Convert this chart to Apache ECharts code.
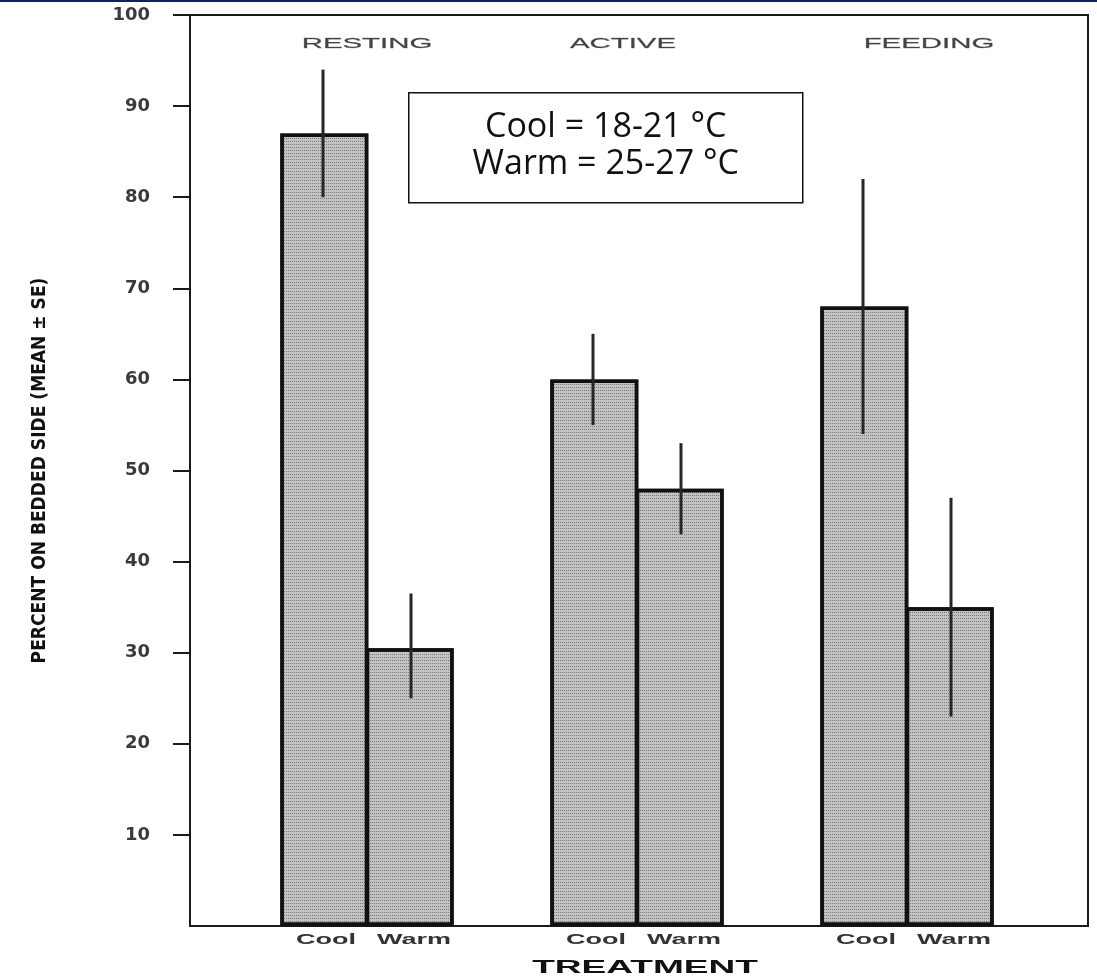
<!DOCTYPE html>
<html>
<head>
<meta charset="utf-8">
<script src="https://cdn.jsdelivr.net/npm/echarts@6/dist/echarts.min.js"></script>
<style>
html,body{margin:0;padding:0;background:#fff;}
#chart{width:1097px;height:977px;}
</style>
</head>
<body>
<div id="chart"></div>
<script>
// ---- data ----
const groups = ['RESTING', 'ACTIVE', 'FEEDING'];
const treatments = ['Cool', 'Warm'];
const coolMean = [87, 60, 68];
const warmMean = [30.5, 48, 35];
const coolLow = [80, 55, 54];
const coolHigh = [94, 65, 82];
const warmLow = [25, 43, 23];
const warmHigh = [36.5, 53, 47];
const yTicks = [10, 20, 30, 40, 50, 60, 70, 80, 90, 100];
const yName = 'PERCENT ON BEDDED SIDE (MEAN \u00B1 SE)';
const xName = 'TREATMENT';
const noteLines = ['Cool = 18-21 \u00B0C', 'Warm = 25-27 \u00B0C'];

// ---- layout / style ----
const BAR_W = 88;
const TOP = 15, PLOT_H = 911;
const headShift = [0, -14, 22];   // small horizontal nudges of the group headings

const chart = echarts.init(document.getElementById('chart'), null, {renderer: 'canvas'});

const barStyle = {
  color: '#c2c2c2',
  borderColor: '#111',
  borderWidth: 3.5,
  decal: {
    symbol: 'rect',
    symbolSize: 1,
    dashArrayX: [1, 1],
    dashArrayY: [1, 2],
    color: 'rgba(50,50,50,0.5)'
  }
};

function errSeries(name, low, high, offset) {
  return {
    type: 'custom',
    name: name + ' SE',
    xAxisIndex: 1,
    yAxisIndex: 1,
    z: 5,
    silent: true,
    encode: {x: 0, y: [1, 2]},
    data: groups.map((g, i) => [i, low[i], high[i]]),
    renderItem: function (params, api) {
      const c = api.value(0);
      const p1 = api.coord([c, api.value(1)]);
      const p2 = api.coord([c, api.value(2)]);
      const x = p1[0] + offset;
      return {
        type: 'line',
        shape: {x1: x, y1: p1[1], x2: x, y2: p2[1]},
        style: {stroke: '#262626', lineWidth: 3}
      };
    }
  };
}

const option = {
  backgroundColor: '#ffffff',
  animation: false,
  grid: [
    {left: 190, top: TOP, width: 898, height: PLOT_H, show: true, borderColor: '#1a1a1a', borderWidth: 2, backgroundColor: 'transparent'},
    {left: 232, top: TOP, width: 810, height: PLOT_H}
  ],
  xAxis: [
    {type: 'value', gridIndex: 0, min: 0, max: 1, show: false},
    {type: 'category', gridIndex: 1, data: groups, show: false}
  ],
  yAxis: [
    {
      type: 'value', gridIndex: 0, min: 0, max: 100, interval: 10,
      name: yName, nameLocation: 'middle', nameRotate: 90, nameGap: 140,
      nameTextStyle: {fontFamily: 'DejaVu Sans Condensed', fontWeight: 'bold', fontSize: 19, color: '#111'},
      axisLine: {show: true, lineStyle: {color: '#1a1a1a', width: 2}},
      axisTick: {show: true, inside: false, length: 17, customValues: yTicks, lineStyle: {color: '#1a1a1a', width: 2}},
      axisLabel: {show: true, margin: 40, customValues: yTicks, fontFamily: 'DejaVu Sans', fontWeight: 'bold', fontSize: 18, color: '#3a3a3a'},
      splitLine: {show: false}
    },
    {type: 'value', gridIndex: 1, min: 0, max: 100, show: false}
  ],
  series: [
    {type: 'bar', name: treatments[0], xAxisIndex: 1, yAxisIndex: 1, data: coolMean, barWidth: BAR_W, barGap: '-3%', itemStyle: barStyle, z: 2},
    {type: 'bar', name: treatments[1], xAxisIndex: 1, yAxisIndex: 1, data: warmMean, barWidth: BAR_W, barGap: '-3%', itemStyle: barStyle, z: 2},
    errSeries(treatments[0], coolLow, coolHigh, -BAR_W / 2),
    errSeries(treatments[1], warmLow, warmHigh, BAR_W / 2)
  ]
};

chart.setOption(option);

// ---- text labels placed through the axes' own scales ----
const yTopPx = chart.convertToPixel({yAxisIndex: 1}, 100);
const yZeroPx = chart.convertToPixel({yAxisIndex: 1}, 0);
const graphics = [
  {type: 'rect', left: 0, top: 0, shape: {width: 1097, height: 2}, style: {fill: '#0d2260'}, z: 10}
];
groups.forEach((g, i) => {
  const cx = chart.convertToPixel({xAxisIndex: 1}, g);
  graphics.push({
    type: 'text', x: cx + headShift[i], y: yTopPx + 29, scaleX: 2.1, z: 10,
    style: {text: g, fontFamily: 'Liberation Sans', fontSize: 14, fill: '#444', stroke: '#888', lineWidth: 0.3, align: 'center', verticalAlign: 'middle', textAlign: 'center', textVerticalAlign: 'middle'}
  });
  treatments.forEach((t, j) => {
    graphics.push({
      type: 'text', x: cx + (j === 0 ? -1 : 1) * BAR_W / 2 + 3, y: yZeroPx + 14, scaleX: 1.8, z: 10,
      style: {text: t, fontFamily: 'Liberation Sans', fontWeight: 'bold', fontSize: 15, fill: '#333', align: 'center', verticalAlign: 'middle', textAlign: 'center', textVerticalAlign: 'middle'}
    });
  });
});
const midX = 190 + 898 / 2 + 6;
graphics.push({
  type: 'text', x: midX, y: yZeroPx + 42, scaleX: 1.95, z: 10,
  style: {text: xName, fontFamily: 'Liberation Sans', fontWeight: 'bold', fontSize: 19, fill: '#111', align: 'center', verticalAlign: 'middle', textAlign: 'center', textVerticalAlign: 'middle'}
});
// note box
graphics.push({
  type: 'group', left: 408, top: 92, z: 20,
  children: [
    {type: 'rect', shape: {x: 0, y: 0, width: 394, height: 110}, style: {fill: '#fff', stroke: '#111', lineWidth: 1.5}},
    {type: 'text', x: 197, y: 35, style: {text: noteLines[0], fontFamily: 'Open Sans', fontSize: 34, fill: '#111', align: 'center', verticalAlign: 'middle', textAlign: 'center', textVerticalAlign: 'middle'}},
    {type: 'text', x: 197, y: 72, style: {text: noteLines[1], fontFamily: 'Open Sans', fontSize: 34, fill: '#111', align: 'center', verticalAlign: 'middle', textAlign: 'center', textVerticalAlign: 'middle'}}
  ]
});
chart.setOption({graphic: graphics});
</script>
</body>
</html>
